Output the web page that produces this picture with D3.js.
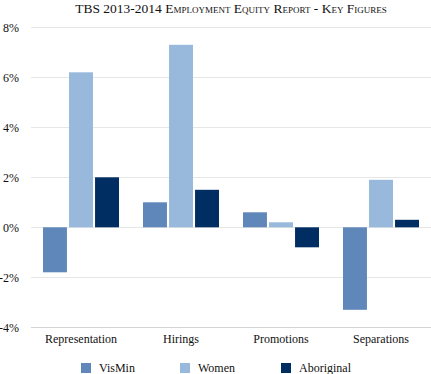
<!DOCTYPE html>
<html>
<head>
<meta charset="utf-8">
<script src="https://cdn.jsdelivr.net/npm/d3@7"></script>
<style>
  body { margin: 0; background: #fff; }
  svg text { font-family: "Liberation Serif", "DejaVu Serif", serif; fill: #111; }
</style>
</head>
<body>
<svg id="chart" width="431" height="374"></svg>
<script>
'use strict';

var categories = ["Representation", "Hirings", "Promotions", "Separations"];
var seriesNames = ["VisMin", "Women", "Aboriginal"];
var visMin = [-1.8, 1.0, 0.6, -3.3];
var women = [6.2, 7.3, 0.2, 1.9];
var aboriginal = [2.0, 1.5, -0.8, 0.3];
var yTicks = [-4, -2, 0, 2, 4, 6, 8];
var colors = ["#5f87ba", "#98b9dc", "#002d62"];

var values = [visMin, women, aboriginal];

var svg = d3.select("#chart"),
    margin = {top: 27, right: 0, bottom: 47, left: 31},
    width = +svg.attr("width") - margin.left - margin.right,
    height = +svg.attr("height") - margin.top - margin.bottom;

var x = d3.scaleBand()
          .domain(categories)
          .range([0, width]);

var xs = d3.scaleBand()
           .domain(seriesNames)
           .range([12, 88])
           .paddingInner(0.08);

var y = d3.scaleLinear()
          .domain([-4, 8])
          .range([height + 0.3, 0.3]);

var g = svg.append("g")
           .attr("transform", "translate(" + margin.left + "," + margin.top + ")");

// grid lines
g.append("g")
  .selectAll("line")
  .data(yTicks)
  .enter().append("line")
    .attr("x1", 0)
    .attr("x2", width)
    .attr("y1", function(d) { return Math.round(y(d)) + 0.5; })
    .attr("y2", function(d) { return Math.round(y(d)) + 0.5; })
    .attr("stroke", function(d) { return d === -4 ? "#d4d4d4" : "#e6e6e6"; })
    .attr("stroke-width", 1.2);

// y labels
g.append("g")
  .selectAll("text")
  .data(yTicks)
  .enter().append("text")
    .attr("x", -12)
    .attr("y", function(d) { return y(d); })
    .attr("dy", "0.35em")
    .attr("text-anchor", "end")
    .style("font-size", "12px")
    .text(function(d) { return d + "%"; });

// bars
var groups = g.selectAll(".grp")
  .data(categories)
  .enter().append("g")
    .attr("class", "grp")
    .attr("transform", function(d) { return "translate(" + x(d) + ",0)"; });

groups.selectAll("rect")
  .data(function(d, i) {
    return seriesNames.map(function(s, j) { return {s: s, v: values[j][i], j: j}; });
  })
  .enter().append("rect")
    .attr("x", function(d) { return xs(d.s); })
    .attr("width", xs.bandwidth())
    .attr("y", function(d) { return y(Math.max(0, d.v)); })
    .attr("height", function(d) { return Math.abs(y(d.v) - y(0)); })
    .attr("fill", function(d) { return colors[d.j]; });

// category labels
g.append("g")
  .selectAll("text")
  .data(categories)
  .enter().append("text")
    .attr("x", function(d) { return x(d) + x.bandwidth() / 2; })
    .attr("y", height + 16)
    .attr("text-anchor", "middle")
    .style("font-size", "12px")
    .text(function(d) { return d; });

// legend
var legendX = [81, 180, 281];
var legend = svg.append("g")
  .selectAll("g")
  .data(seriesNames)
  .enter().append("g")
    .attr("transform", function(d, i) { return "translate(" + legendX[i] + ",363)"; });

legend.append("rect")
  .attr("width", 10)
  .attr("height", 10)
  .attr("fill", function(d, i) { return colors[i]; });

legend.append("text")
  .attr("x", 18)
  .attr("y", 9)
  .style("font-size", "12px")
  .text(function(d) { return d; });

// title
svg.append("text")
  .attr("x", 231)
  .attr("y", 13)
  .attr("text-anchor", "middle")
  .style("font-size", "13.5px")
  .style("font-variant", "small-caps")
  .text("TBS 2013-2014 Employment Equity Report - Key Figures");
</script>
</body>
</html>
